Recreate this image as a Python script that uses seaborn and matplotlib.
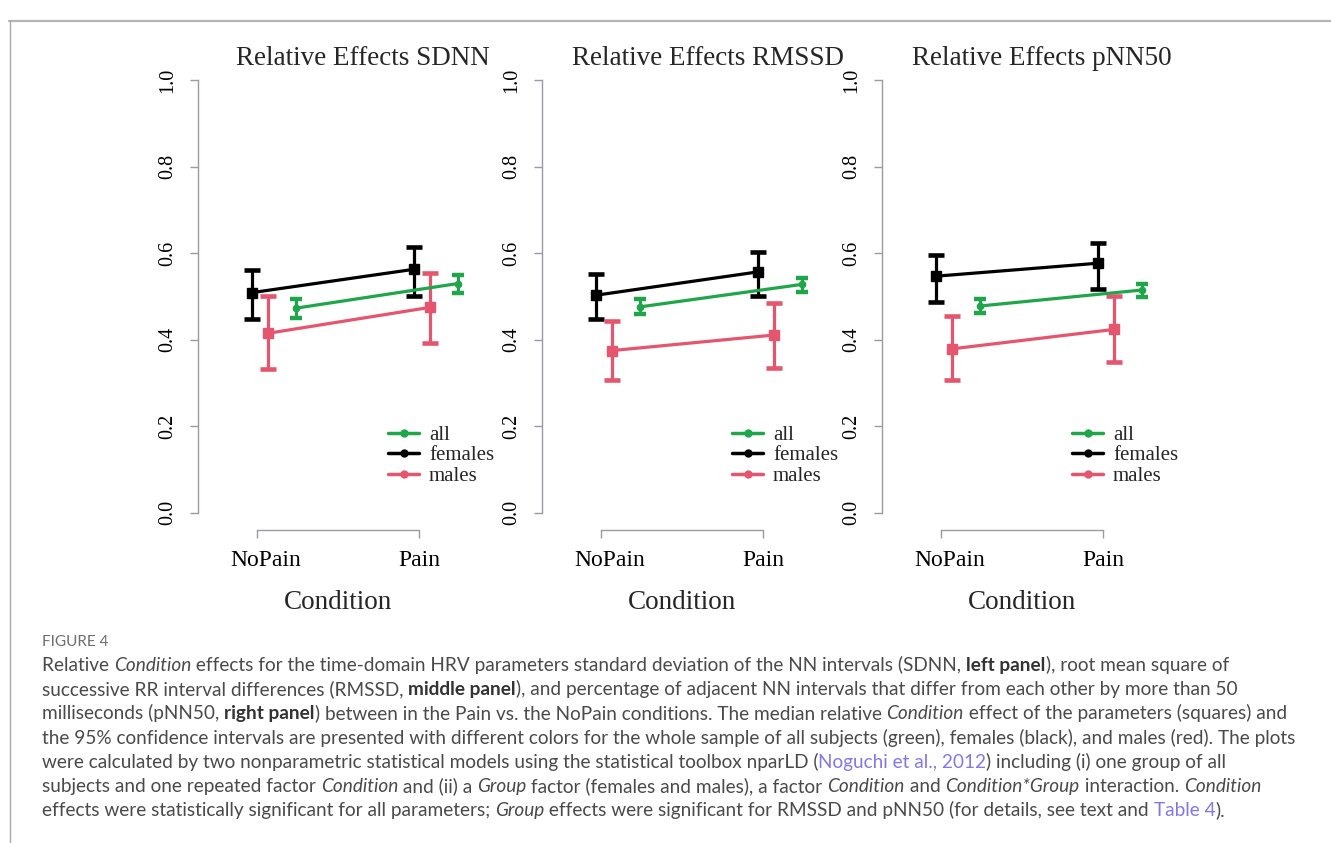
import numpy as np
import pandas as pd
import seaborn as sns
import matplotlib.pyplot as plt
from matplotlib.lines import Line2D
from matplotlib.transforms import ScaledTranslation

# ---- data (relative effects, median and 95% CI) ----
conditions = ['NoPain', 'Pain']
groups = ['all', 'females', 'males']
panels = ['SDNN', 'RMSSD', 'pNN50']

sdnn_est = {'all': [0.473, 0.530], 'females': [0.509, 0.563], 'males': [0.415, 0.475]}
sdnn_lo = {'all': [0.450, 0.507], 'females': [0.448, 0.502], 'males': [0.332, 0.393]}
sdnn_hi = {'all': [0.494, 0.550], 'females': [0.561, 0.614], 'males': [0.501, 0.554]}

rmssd_est = {'all': [0.476, 0.528], 'females': [0.503, 0.557], 'males': [0.375, 0.411]}
rmssd_lo = {'all': [0.460, 0.511], 'females': [0.448, 0.501], 'males': [0.307, 0.334]}
rmssd_hi = {'all': [0.494, 0.543], 'females': [0.551, 0.602], 'males': [0.444, 0.486]}

pnn50_est = {'all': [0.478, 0.515], 'females': [0.547, 0.577], 'males': [0.379, 0.424]}
pnn50_lo = {'all': [0.461, 0.498], 'females': [0.488, 0.517], 'males': [0.307, 0.349]}
pnn50_hi = {'all': [0.494, 0.530], 'females': [0.596, 0.624], 'males': [0.456, 0.502]}

# horizontal dodge of each group around the condition position
dodge = {'all': 0.24, 'females': -0.03, 'males': 0.07}

colors = {'all': '#1FA64A', 'females': '#000000', 'males': '#E5566E'}

caption_title = 'FIGURE 4'
caption_lines = [
    [('Relative ', 'n'), ('Condition', 'i'),
     (' effects for the time-domain HRV parameters standard deviation of the NN intervals (SDNN, ', 'n'),
     ('left panel', 'b'), ('), root mean square of', 'n')],
    [('successive RR interval differences (RMSSD, ', 'n'), ('middle panel', 'b'),
     ('), and percentage of adjacent NN intervals that differ from each other by more than 50', 'n')],
    [('milliseconds (pNN50, ', 'n'), ('right panel', 'b'),
     (') between in the Pain vs. the NoPain conditions. The median relative ', 'n'),
     ('Condition', 'i'), (' effect of the parameters (squares) and', 'n')],
    [('the 95% confidence intervals are presented with different colors for the whole sample of all subjects (green), females (black), and males (red). The plots', 'n')],
    [('were calculated by two nonparametric statistical models using the statistical toolbox nparLD (', 'n'),
     ('Noguchi et al., 2012', 'l'), (') including (i) one group of all', 'n')],
    [('subjects and one repeated factor ', 'n'), ('Condition', 'i'), (' and (ii) a ', 'n'),
     ('Group', 'i'), (' factor (females and males), a factor ', 'n'), ('Condition', 'i'),
     (' and ', 'n'), ('Condition*Group', 'i'), (' interaction. ', 'n'), ('Condition', 'i')],
    [('effects were statistically significant for all parameters; ', 'n'), ('Group', 'i'),
     (' effects were significant for RMSSD and pNN50 (for details, see text and ', 'n'),
     ('Table 4', 'l'), (').', 'n')],
]

panel_data = {
    'SDNN': (sdnn_est, sdnn_lo, sdnn_hi),
    'RMSSD': (rmssd_est, rmssd_lo, rmssd_hi),
    'pNN50': (pnn50_est, pnn50_lo, pnn50_hi),
}

sns.set_theme(style='white')
plt.rcParams['font.family'] = ['Liberation Serif', 'DejaVu Serif']

W, H = 1331, 843
fig = plt.figure(figsize=(W / 100, H / 100), dpi=100)

axis_grey = '#9C99A8'
lefts = [198, 542, 882]
title_x = [0.59, 0.593, 0.571]
top_px, bottom_px, width_px = 63, 530, 280

for i, name in enumerate(panels):
    ax = fig.add_axes([lefts[i] / W, 1 - bottom_px / H, width_px / W, (bottom_px - top_px) / H])
    est, lo, hi = panel_data[name]

    # build a long table for the connecting lines
    rows = []
    for g in groups:
        for c, cond in enumerate(conditions):
            rows.append({'group': g, 'x': c + 1 + dodge[g], 'est': est[g][c]})
    df = pd.DataFrame(rows)

    draw_order = ['females', 'males', 'all']
    for z, g in enumerate(draw_order):
        sub = df[df['group'] == g]
        sns.lineplot(data=sub, x='x', y='est', color=colors[g], lw=2.3,
                     ax=ax, legend=False, zorder=3 + z, sort=False)
        e = np.array(est[g])
        yerr = [e - np.array(lo[g]), np.array(hi[g]) - e]
        if g == 'all':
            ax.errorbar(sub['x'], e, yerr=yerr, fmt='o', ms=4.5, color=colors[g],
                        elinewidth=2.2, capsize=4.6, capthick=3.2, zorder=3 + z)
        else:
            ax.errorbar(sub['x'], e, yerr=yerr, fmt='s', ms=7.5, color=colors[g],
                        elinewidth=2.3, capsize=5.8, capthick=3.3, zorder=3 + z)

    ax.set_xlim(0.636, 2.364)
    ax.set_ylim(-0.04, 1.04)
    ax.set_xticks([1, 2])
    ax.set_xticklabels(conditions, fontsize=17)
    ax.set_yticks(np.arange(0, 1.01, 0.2))
    ax.set_yticklabels([f'{v:.1f}' for v in np.arange(0, 1.01, 0.2)],
                       fontsize=14.5, rotation=90, va='center')
    ax.set_xlabel('Condition', fontsize=19.5, labelpad=14)
    ax.set_ylabel('')
    ax.text(title_x[i], 0.9957, f'Relative Effects {name}', transform=ax.transAxes,
            ha='center', va='baseline', fontsize=19.5)

    for s in ['top', 'right']:
        ax.spines[s].set_visible(False)
    ax.spines['left'].set_bounds(0, 1)
    ax.spines['bottom'].set_bounds(1, 2)
    for s in ['left', 'bottom']:
        ax.spines[s].set_color(axis_grey)
        ax.spines[s].set_linewidth(1.0)
    ax.tick_params(axis='both', direction='out', length=5.8, width=1.0,
                   color=axis_grey, labelcolor='black', left=True, bottom=True)
    ax.tick_params(axis='y', pad=9)
    ax.tick_params(axis='x', pad=8.5)
    ax.grid(False)
    ax.patch.set_alpha(0)

    # R places the first condition label a little to the right
    lbl = ax.get_xticklabels()[0]
    lbl.set_transform(lbl.get_transform() + ScaledTranslation(0.09, 0, fig.dpi_scale_trans))

    handles = [Line2D([], [], color=colors[g], lw=2.5, marker='o', ms=5) for g in groups]
    ax.legend(handles, groups, loc='upper left', bbox_to_anchor=(0.68, 0.224),
              frameon=False, fontsize=15, labelspacing=0.04, handlelength=1.45,
              handletextpad=0.5, borderpad=0, borderaxespad=0)

# ---- page frame and caption ----
fig.add_artist(Line2D([9 / W, 1], [1 - 21 / H, 1 - 21 / H], transform=fig.transFigure,
                      color='#B5B5B5', lw=1.6))
fig.add_artist(Line2D([9.5 / W, 9.5 / W], [0, 1 - 21 / H], transform=fig.transFigure,
                      color='#A8A8A8', lw=1.0))

cap_font = ['Lato', 'DejaVu Sans']
cap_left = 42.0
fig.text(cap_left / W, 1 - 642 / H, caption_title, fontsize=11, color='#6E6E6E',
         family=cap_font, va='center')

renderer = fig.canvas.get_renderer()
styles = {'n': dict(color='#4A4A4A'),
          'i': dict(color='#4A4A4A', fontstyle='italic'),
          'b': dict(color='#333333', fontweight='bold'),
          'l': dict(color='#8478E8')}


def seg_width(txt, st, size):
    # measure with a trailing bar so spaces count, then subtract the bar
    t1 = fig.text(0, 0, txt + '|', fontsize=size, family=cap_font, **styles[st])
    t2 = fig.text(0, 0, '|', fontsize=size, family=cap_font, **styles[st])
    w = t1.get_window_extent(renderer).width - t2.get_window_extent(renderer).width
    t1.remove()
    t2.remove()
    return w


# size the caption so the fourth line ends where it does in the reference
base = 12.0
ref_w = sum(seg_width(t, s, base) for t, s in caption_lines[3])
cap_size = base * (1295 - cap_left) / ref_w

for k, line in enumerate(caption_lines):
    x = cap_left
    y = 671 + k * 24.2
    for txt, st in line:
        fig.text(x / W, 1 - y / H, txt, fontsize=cap_size, family=cap_font,
                 va='baseline', ha='left', **styles[st])
        x += seg_width(txt, st, cap_size)

fig.savefig('out.png', dpi=100)
